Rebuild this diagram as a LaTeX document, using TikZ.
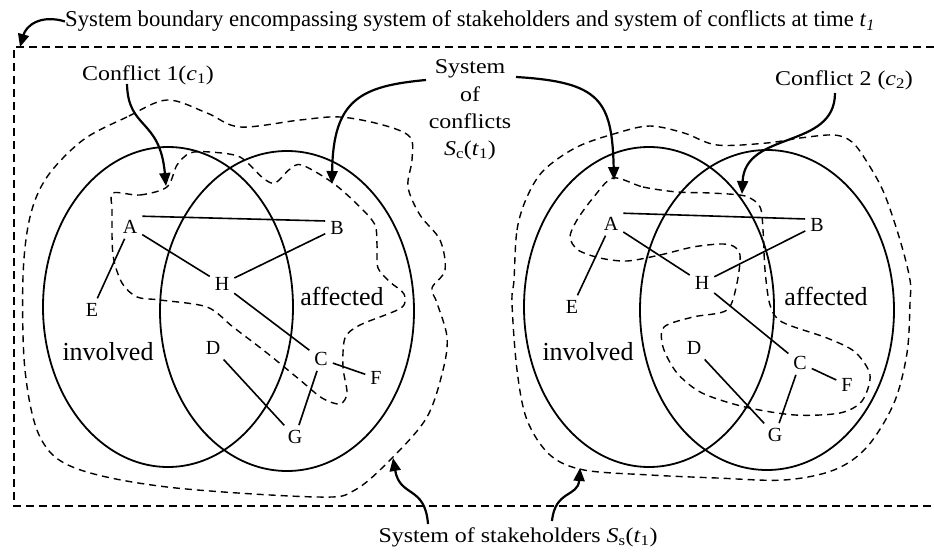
\documentclass[tikz,border=0pt]{standalone}
\usepackage{fontspec}
\setmainfont{Liberation Serif}
\newfontfamily\widefont[FakeStretch=1.14]{Liberation Serif}
\usetikzlibrary{arrows.meta}
\begin{document}
\begin{tikzpicture}[x=1pt,y=-1pt,
  toplbl/.style={font=\fontsize{22.7}{27}\selectfont, inner sep=0pt},
  lbl/.style={font=\widefont\fontsize{21}{27.3}\selectfont, inner sep=0pt},
  ltr/.style={font=\fontsize{20}{22}\selectfont, inner sep=4pt},
  big/.style={font=\fontsize{26}{30}\selectfont, inner sep=0pt},
  ell/.style={line width=1.8pt},
  edg/.style={line width=1.6pt, shorten >=1pt, shorten <=1pt},
  dsh/.style={line width=1.4pt, dash pattern=on 7pt off 5pt},
  arr/.style={line width=2.2pt, -{Triangle[length=13pt,width=11pt]}},
]
\useasboundingbox (0,0) rectangle (934,553);

% system boundary
\draw[line width=1.5pt, dash pattern=on 8pt off 5pt] (934,47) -- (14,47) -- (14,506) -- (934,506);

% ---------------- left diagram ----------------
\draw[ell] (168,307) ellipse [x radius=125, y radius=160];
\draw[ell] (287,311) ellipse [x radius=127, y radius=160];

% stakeholders (left)
\draw[dsh] plot[smooth cycle, tension=0.55] coordinates {
 (167,100) (127,117) (83,140) (47,177) (30,217) (23,277) (25,370) (40,437)
 (75,468) (167,487) (317,497) (355,490) (393,457) (427,417) (443,370) (447,337)
 (437,303) (432,288) (445,270) (440,240) (420,215) (408,187) (412,160) (410,137)
 (383,125) (340,117) (300,120) (240,127) (207,113)};

% conflict 1
\draw[dsh] plot[smooth cycle, tension=0.5] coordinates {
 (113,193) (140,195) (167,187) (177,165) (190,153) (210,152) (240,157)
 (263,178) (275,183) (290,169) (302,165) (333,183) (360,207) (375,225)
 (377,245) (378,268) (390,282) (404,294) (401,308) (360,325) (345,338)
 (343,367) (347,393) (340,404) (322,398) (300,380) (267,353) (233,327)
 (207,307) (160,300) (137,297) (122,283) (113,255) (112,210)};

% nodes left
\node[ltr] (A1) at (130,227) {A};
\node[ltr] (B1) at (337,228) {B};
\node[ltr] (H1) at (222,284) {H};
\node[ltr] (E1) at (92,310) {E};
\node[ltr] (D1) at (213,348) {D};
\node[ltr] (C1) at (321,359) {C};
\node[ltr] (F1) at (376,378) {F};
\node[ltr] (G1) at (295,437) {G};
\node[big] (inv1) at (108,352) {involved};
\node[big] (aff1) at (342,296) {affected};

\draw[edg] (A1.north east) -- ([yshift=7pt]B1.west);
\draw[edg] (A1) -- (H1);
\draw[edg] (B1) -- (H1);
\draw[edg] (A1) -- (E1);
\draw[edg] (H1) -- (C1);
\draw[edg] (C1) -- (F1);
\draw[edg] (D1) -- (G1);
\draw[edg] (C1) -- (G1);

% ---------------- right diagram ----------------
\draw[ell] (649,307) ellipse [x radius=125, y radius=160];
\draw[ell] (767,310) ellipse [x radius=127, y radius=160];

% stakeholders (right)
\draw[dsh] plot[smooth cycle, tension=0.55] coordinates {
 (514,280) (517,230) (527,197) (544,170) (577,147) (617,133) (650,126)
 (684,133) (717,145) (767,143) (800,138) (834,135) (852,142) (867,162)
 (884,193) (900,240) (910,280) (910,303) (907,353) (894,403) (867,447)
 (834,470) (784,480) (717,478) (650,475) (584,470) (550,455) (527,420)
 (517,370) (512,303)};

% conflict 2
\draw[dsh] plot[smooth cycle, tension=0.5] coordinates {
 (613,178) (643,187) (677,192) (710,193) (745,196) (760,207) (763,230)
 (765,270) (770,305) (782,322) (827,338) (855,352) (870,375) (862,401)
 (840,413) (795,415) (745,407) (702,393) (677,373) (663,347) (664,327)
 (693,317) (727,310) (737,283) (740,255) (733,246) (720,244) (693,247)
 (660,255) (627,261) (600,258) (578,250) (570,237) (577,220) (593,198)};

% nodes right
\node[ltr] (A2) at (611,224) {A};
\node[ltr] (B2) at (817,225) {B};
\node[ltr] (H2) at (702,283) {H};
\node[ltr] (E2) at (572,307) {E};
\node[ltr] (D2) at (694,348) {D};
\node[ltr] (C2) at (800,363) {C};
\node[ltr] (F2) at (847,385) {F};
\node[ltr] (G2) at (775,435) {G};
\node[big] (inv2) at (588,352) {involved};
\node[big] (aff2) at (826,296) {affected};

\draw[edg] (A2.north east) -- ([yshift=6pt]B2.west);
\draw[edg] (A2) -- (H2);
\draw[edg] (B2) -- (H2);
\draw[edg] (A2) -- (E2);
\draw[edg] (H2) -- (C2);
\draw[edg] (C2) -- (F2);
\draw[edg] (D2) -- (G2);
\draw[edg] (C2) -- (G2);

% ---------------- labels ----------------
\node[toplbl, anchor=base west] (top) at (65,27)
  {System boundary encompassing system of stakeholders and system of conflicts at time \textit{t}\textsubscript{\textit{1}}};
\coordinate (topTip) at (20,47);
\draw[arr] (top.west) .. controls (40,14) and (26,26) .. (topTip);

\node[lbl] (cf1) at (148,75) {Conflict 1(\textit{c}\textsubscript{1})};
\coordinate (cf1s) at (127,84);
\coordinate (cf1t) at (166,186);
\draw[arr] (cf1s) .. controls (128,130) and (160,118) .. (cf1t);

\node[lbl, align=center] (soc) at (470,110)
  {System\\of\\conflicts\\\textit{S}\textsubscript{c}(\textit{t}\textsubscript{1})};
\coordinate (socL) at (426,80);
\coordinate (socLt) at (332,184);
\draw[arr] (socL) .. controls (360,86) and (333,100) .. (socLt);
\coordinate (socR) at (516,77);
\coordinate (socRt) at (614,180);
\draw[arr] (socR) .. controls (600,82) and (612,100) .. (socRt);

\node[lbl] (cf2) at (844,80) {Conflict 2 (\textit{c}\textsubscript{2})};
\coordinate (cf2s) at (835,93);
\coordinate (cf2t) at (742,194);
\draw[arr] (cf2s) .. controls (835,150) and (745,130) .. (cf2t);

\node[lbl] (ssh) at (518,537) {System of stakeholders \textit{S}\textsubscript{s}(\textit{t}\textsubscript{1})};
\coordinate (sshL) at (428,524);
\coordinate (sshLt) at (393,458);
\draw[arr] (sshL) .. controls (425,485) and (400,498) .. (sshLt);
\coordinate (sshR) at (552,521);
\coordinate (sshRt) at (580,468);
\draw[arr] (sshR) .. controls (555,490) and (578,497) .. (sshRt);
\end{tikzpicture}
\end{document}
